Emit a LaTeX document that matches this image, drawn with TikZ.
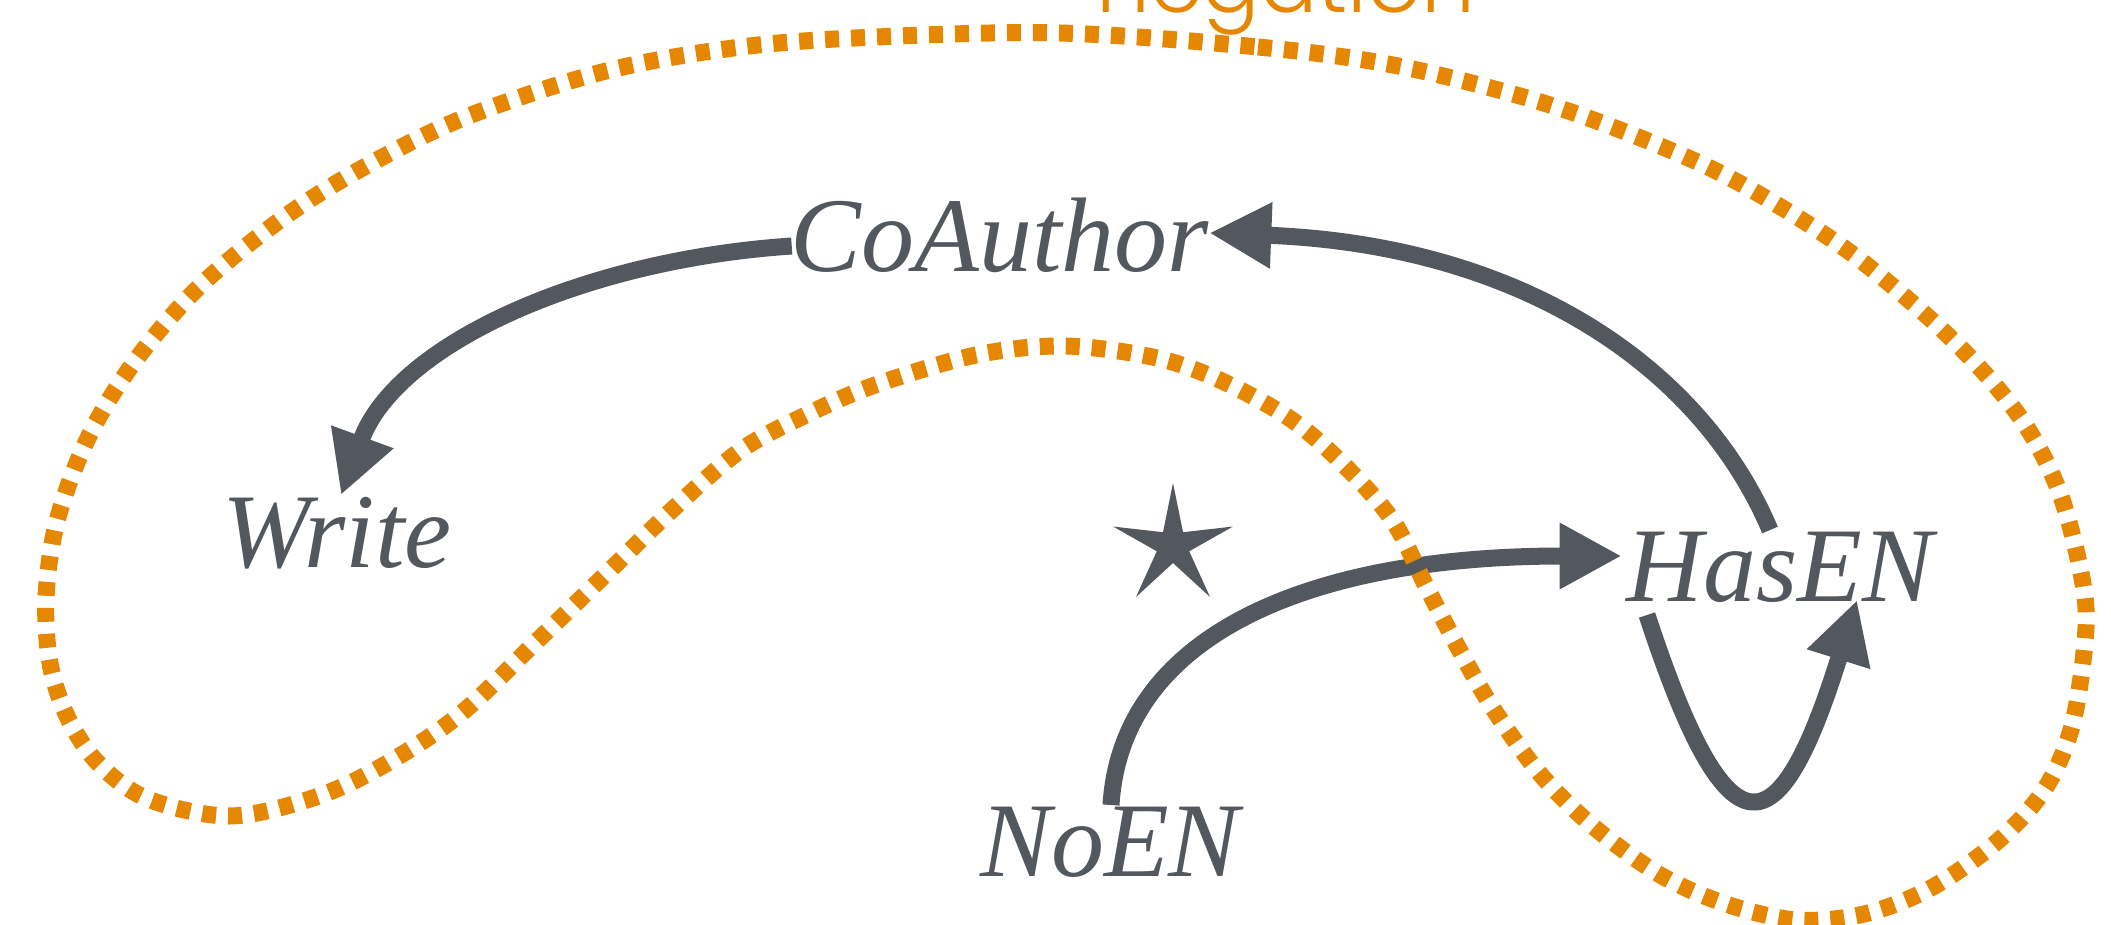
\documentclass[tikz,border=0pt]{standalone}
\usepackage{fontspec}
\setmainfont{Liberation Serif}
\newfontfamily\negfont{Poppins Light}
\usetikzlibrary{arrows.meta,shapes.geometric,calc}
\definecolor{slate}{RGB}{83,87,94}
\definecolor{amber}{RGB}{229,135,0}
\tikzset{
  lbl/.style={anchor=base, inner sep=0pt, text=slate, font=\fontsize{106}{120}\selectfont\itshape},
  conn/.style={draw=slate, line width=17pt, -{Triangle[length=62pt,width=62pt]}},
  neghull/.style={draw=amber, line width=17pt, dash pattern=on 14pt off 12pt},
}
\begin{document}
\begin{tikzpicture}[x=1pt,y=-1pt]
\useasboundingbox (0,0) rectangle (2111,924);
\clip (0,0) rectangle (2111,924);
\node[lbl] (CoAuthor) at (1000,271) {CoAuthor};
\node[lbl] (Write) at (337,567) {Write};
\node[lbl] (HasEN) at (1780,601) {HasEN};
\node[lbl] (NoEN) at (1110,876) {NoEN};
\node[star, star points=5, star point ratio=3.7, minimum size=126pt, inner sep=0pt, fill=slate] (star) at (1173,546) {};
\node[anchor=base, inner sep=0pt, text=amber, font=\negfont\fontsize{85}{100}\selectfont] (neg) at (1286,12) {negation};
% connectors
\draw[conn] ($(CoAuthor.base west)+(1,-25)$) .. controls +(-210,14) and +(55,-150) .. ($(Write.base)+(4,-72)$);
\draw[conn] ($(HasEN.base)+(-10,-71)$) .. controls +(-70,-165) and +(310,12) .. ($(CoAuthor.base east)+(0,-38)$);
\draw[conn] ($(NoEN.base)+(1,-71)$) .. controls +(10,-165) and +(-322,0) .. ($(HasEN.base west)+(-5,-45)$);
\draw[conn] ($(HasEN.base)+(-133,14)$) .. controls +(82,250) and +(-78,250) .. ($(HasEN.base)+(77,-1)$);
% negation hull
\draw[neghull] plot[smooth cycle, tension=0.55] coordinates {
(1060,33) (1258,47) (1393,65) (1527,98) (1628,133) (1730,178) (1837,243) (1918,308) (1979,367) (2026,426) (2059,491) (2080,568) (2086,627) (2073,722) (2046,787) (1999,840) (1931,888) (1864,914) (1797,920) (1729,905) (1662,876) (1595,828) (1541,775) (1494,710) (1460,651) (1426,586) (1393,521) (1346,467) (1292,420) (1224,382) (1157,358) (1065,346) (976,355) (875,385) (808,414) (741,450) (673,509) (606,574) (539,639) (458,716) (377,769) (310,799) (229,816) (148,799) (98,763) (67,716) (50,663) (46,598) (57,521) (88,438) (135,361) (202,284) (290,213) (377,160) (471,115) (606,71) (741,47) (876,37)};
\end{tikzpicture}
\end{document}
